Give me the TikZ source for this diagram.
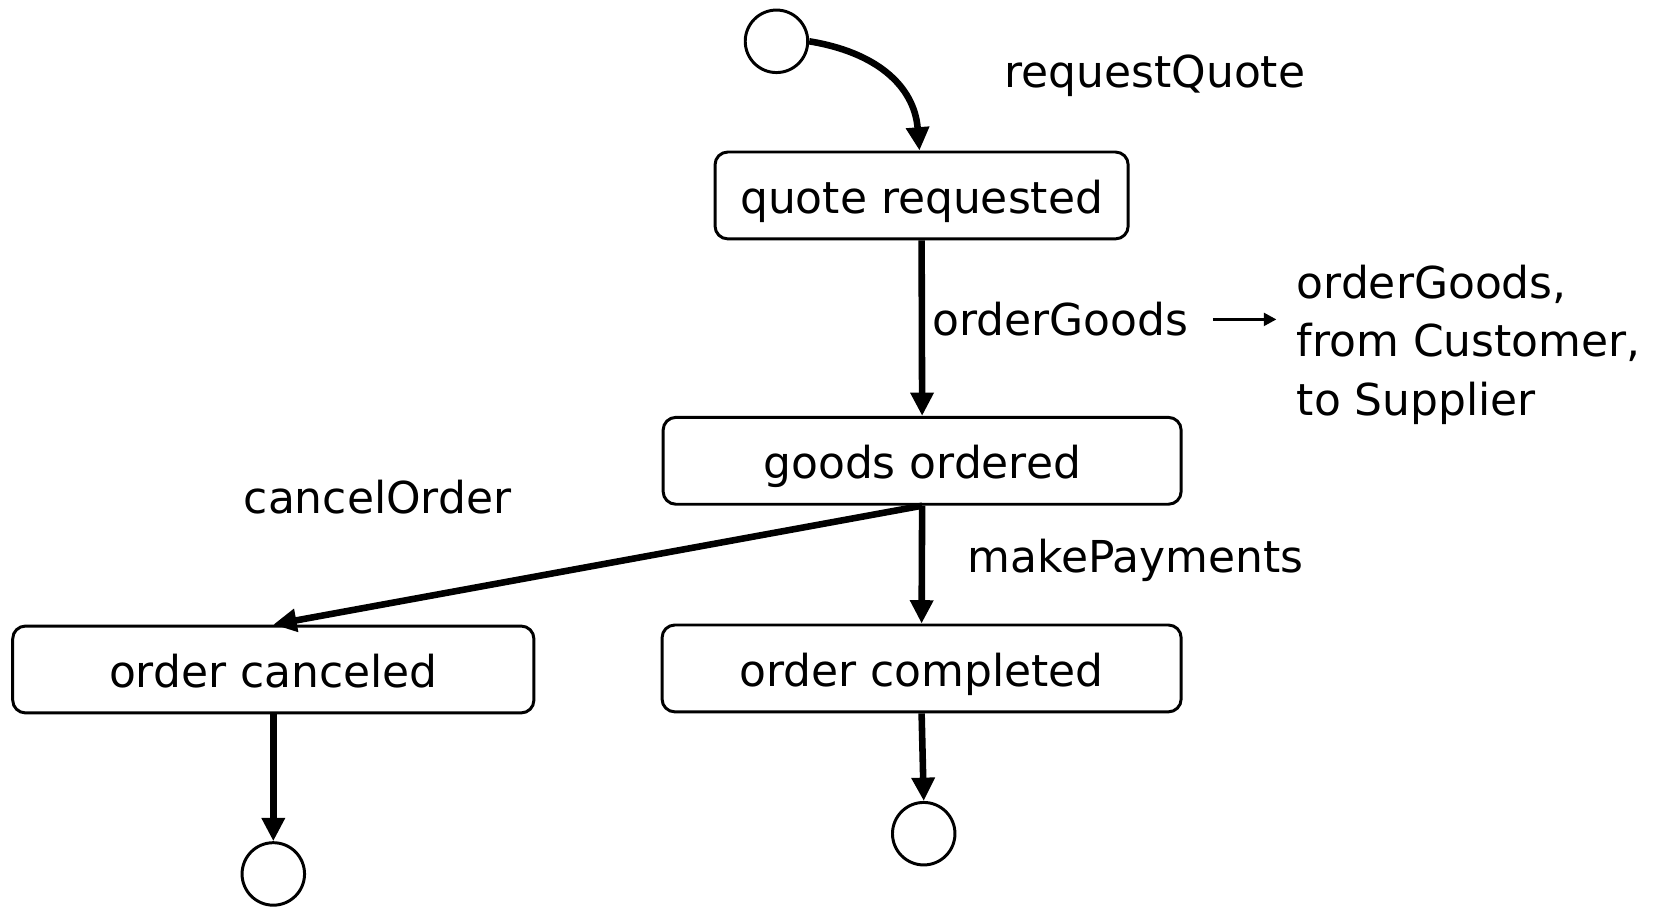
\documentclass[tikz,border=0pt]{standalone}
\usepackage{fontspec}
\setmainfont{DejaVu Sans}
\usetikzlibrary{arrows.meta}
\begin{document}
\begin{tikzpicture}[x=1pt,y=-1pt,
  every node/.style={font=\fontsize{41.5}{55}\selectfont},
  state/.style={draw, line width=2.8pt, rounded corners=12pt, minimum height=82pt,
    text height=44pt, text depth=10pt, inner sep=0pt},
  pseudo/.style={draw, circle, line width=2.8pt, minimum size=59pt, inner sep=0pt},
  lbl/.style={inner sep=0pt, anchor=base west},
  trans/.style={line width=6.2pt, -{Triangle[length=22pt,width=21pt]}},
  note/.style={line width=3pt, -{Triangle[length=12pt,width=12pt]}}
]
\useasboundingbox (0,0) rectangle (1568,856);

\node[pseudo] (start) at (733,39) {};
\node[state, minimum width=390pt] (qr) at (870,184.5) {quote requested};
\node[state, minimum width=489pt] (go) at (870.5,435) {goods ordered};
\node[state, minimum width=492pt] (ocn) at (258,632) {order canceled};
\node[state, minimum width=490pt] (ocp) at (870,631) {order completed};
\node[pseudo] (end1) at (258,825) {};
\node[pseudo] (end2) at (872,787) {};

\node[lbl] (rq) at (948,83) {requestQuote};
\node[lbl] (og) at (880,317) {orderGoods};
\node[lbl] (msg) at (1224,282) {\begin{tabular}[t]{@{}l@{}}orderGoods,\\from Customer,\\to Supplier\end{tabular}};
\node[lbl] (co) at (230,485) {cancelOrder};
\node[lbl] (mp) at (913,540) {makePayments};

\draw[trans] (start.east) .. controls +(62,10) and +(-5,-62) .. ([xshift=-2pt]qr.north);
\draw[trans] (qr.south) -- (go.north);
\draw[trans] (go.south) -- (ocn.north);
\draw[trans] (go.south) -- (ocp.north);
\draw[trans] (ocn.south) -- (end1.north);
\draw[trans] (ocp.south) -- (end2.north);

\path (og.east -| msg.west) ++(-19pt,0) coordinate (arrEnd);
\draw[note] ([xshift=23pt]og.east) -- (arrEnd);
\end{tikzpicture}
\end{document}
